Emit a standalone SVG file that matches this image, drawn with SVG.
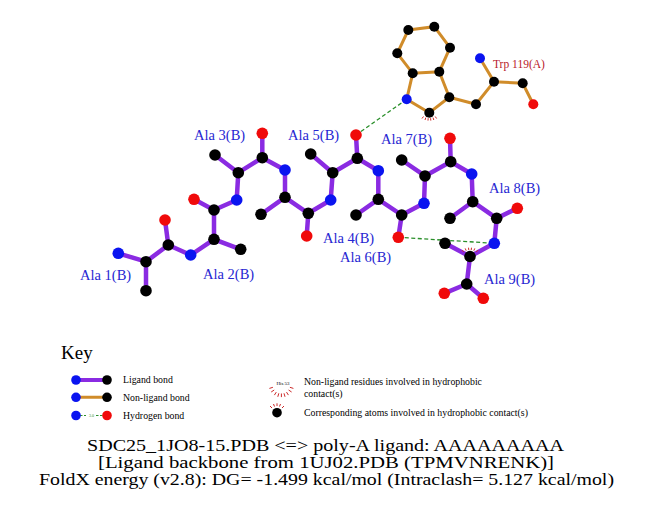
<svg xmlns="http://www.w3.org/2000/svg" width="651" height="511" viewBox="0 0 651 511">
<style>
.lb{stroke:#8a2be2;stroke-width:4.5;stroke-linecap:round;fill:none}
.nb{stroke:#d08c2a;stroke-width:3;stroke-linecap:round;fill:none}
.hb{stroke:#2a8f2a;stroke-width:1.3;stroke-dasharray:4,2.5;fill:none}
.hp{stroke:#cc2a2a;stroke-width:1;fill:none}
.C{fill:#000}
.N{fill:#0a14f0}
.O{fill:#f00a0a}
.lab{font-family:"Liberation Serif","Times New Roman",serif;font-size:14.5px;fill:#2626d2}
.tlab{font-family:"Liberation Serif","Times New Roman",serif;font-size:11.5px;fill:#b8202a}
.key{font-family:"Liberation Serif","Times New Roman",serif;font-size:9.8px;fill:#000}
.title{font-family:"Liberation Serif","Times New Roman",serif;font-size:16px;fill:#000}
</style>
<rect width="651" height="511" fill="#fff"/>
<g id="connectors">
<path class="nb" d="M408.3,30 L434.3,26.7 L450,47.7 L439.3,71.7 L412.7,73.3 L397.3,53.3 Z"/>
<path class="nb" d="M412.7,73.3 L406.7,99.3 L429.3,112.7 L449.3,97.3 L439.3,71.7"/>
<path class="nb" d="M449.3,97.3 L476,104.3 L494,81.7 L480,58.3 M494,81.7 L522.7,83.3 L533.3,104.3"/>
<path class="lb" d="M118.3,253.3 L146,261.7 L146,290.7 M146,261.7 L168.3,245 L165,220 M168.3,245 L190.7,255"/>
<path class="lb" d="M190.7,255 L214,239.3 L240.7,249.3 M214,239.3 L214,210 L194,199.3 M214,210 L236.7,200"/>
<path class="lb" d="M236.7,200 L238.3,172.7 L215,155 M238.3,172.7 L262.3,157.7 L262.3,133.3 M262.3,157.7 L285,170"/>
<path class="lb" d="M285,170 L285,197.3 L261,214.3 M285,197.3 L308.3,213.3 L306.7,236 M308.3,213.3 L330.7,200"/>
<path class="lb" d="M330.7,200 L332.7,172.7 L310.7,154 M332.7,172.7 L357.3,158.3 L356,135 M357.3,158.3 L378.3,170.7"/>
<path class="lb" d="M378.3,170.7 L378.3,199.3 L356,215 M378.3,199.3 L401.7,215 L398.3,237.3 M401.7,215 L424,203.3"/>
<path class="lb" d="M424,203.3 L425,176 L401.7,160 M425,176 L450.7,161.7 L450,138.3 M450.7,161.7 L471.7,174"/>
<path class="lb" d="M471.7,174 L472.7,201.7 L450,218.3 M472.7,201.7 L496.7,218.3 L517.3,208.3 M496.7,218.3 L494.3,243.3"/>
<path class="lb" d="M494.3,243.3 L470,256.5 L445,243.3 M470,256.5 L466.7,284 L444.3,293.3 M466.7,284 L483.3,298.3"/>
<path class="hb" d="M406.7,99.3 L356,135"/>
<path class="hb" d="M398.3,237.3 L494.3,243.3"/>
</g>
<g id="trp119">
<circle class="C" cx="408.3" cy="30" r="5"/>
<circle class="C" cx="434.3" cy="26.7" r="5"/>
<circle class="C" cx="450" cy="47.7" r="5"/>
<circle class="C" cx="439.3" cy="71.7" r="5"/>
<circle class="C" cx="412.7" cy="73.3" r="5"/>
<circle class="C" cx="397.3" cy="53.3" r="5"/>
<circle class="N" cx="406.7" cy="99.3" r="5"/>
<path class="hp" d="M423.5,116.5 L422,118.5 M425.8,117.6 L425,120 M428.2,118.2 L428,120.6 M430.6,118.2 L430.8,120.6 M433,117.6 L433.8,120 M435.2,116.5 L436.6,118.5"/>
<circle class="C" cx="429.3" cy="112.7" r="5"/>
<circle class="C" cx="449.3" cy="97.3" r="5"/>
<circle class="C" cx="476" cy="104.3" r="5"/>
<circle class="C" cx="494" cy="81.7" r="5"/>
<circle class="N" cx="480" cy="58.3" r="5"/>
<circle class="C" cx="522.7" cy="83.3" r="5"/>
<circle class="O" cx="533.3" cy="104.3" r="5"/>
<text class="tlab" x="493" y="67.5">Trp 119(A)</text>
</g>
<g id="ala1">
<circle class="N" cx="118.3" cy="253.3" r="5.8"/>
<circle class="C" cx="146" cy="261.7" r="5.8"/>
<circle class="C" cx="146" cy="290.7" r="5.8"/>
<circle class="C" cx="168.3" cy="245" r="5.8"/>
<circle class="O" cx="165" cy="220" r="5.8"/>
<text class="lab" x="80" y="280">Ala 1(B)</text>
</g>
<g id="ala2">
<circle class="N" cx="190.7" cy="255" r="5.8"/>
<circle class="C" cx="214" cy="239.3" r="5.8"/>
<circle class="C" cx="240.7" cy="249.3" r="5.8"/>
<circle class="C" cx="214" cy="210" r="5.8"/>
<circle class="O" cx="194" cy="199.3" r="5.8"/>
<text class="lab" x="203" y="279">Ala 2(B)</text>
</g>
<g id="ala3">
<circle class="N" cx="236.7" cy="200" r="5.8"/>
<circle class="C" cx="238.3" cy="172.7" r="5.8"/>
<circle class="C" cx="215" cy="155" r="5.8"/>
<circle class="C" cx="262.3" cy="157.7" r="5.8"/>
<circle class="O" cx="262.3" cy="133.3" r="5.8"/>
<text class="lab" x="194" y="140">Ala 3(B)</text>
</g>
<g id="ala4">
<circle class="N" cx="285" cy="170" r="5.8"/>
<circle class="C" cx="285" cy="197.3" r="5.8"/>
<circle class="C" cx="261" cy="214.3" r="5.8"/>
<circle class="C" cx="308.3" cy="213.3" r="5.8"/>
<circle class="O" cx="306.7" cy="236" r="5.8"/>
<text class="lab" x="323" y="243">Ala 4(B)</text>
</g>
<g id="ala5">
<circle class="N" cx="330.7" cy="200" r="5.8"/>
<circle class="C" cx="332.7" cy="172.7" r="5.8"/>
<circle class="C" cx="310.7" cy="154" r="5.8"/>
<circle class="C" cx="357.3" cy="158.3" r="5.8"/>
<circle class="O" cx="356" cy="135" r="5.8"/>
<text class="lab" x="288" y="140">Ala 5(B)</text>
</g>
<g id="ala6">
<circle class="N" cx="378.3" cy="170.7" r="5.8"/>
<circle class="C" cx="378.3" cy="199.3" r="5.8"/>
<circle class="C" cx="356" cy="215" r="5.8"/>
<circle class="C" cx="401.7" cy="215" r="5.8"/>
<circle class="O" cx="398.3" cy="237.3" r="5.8"/>
<text class="lab" x="340" y="262">Ala 6(B)</text>
</g>
<g id="ala7">
<circle class="N" cx="424" cy="203.3" r="5.8"/>
<circle class="C" cx="425" cy="176" r="5.8"/>
<circle class="C" cx="401.7" cy="160" r="5.8"/>
<circle class="C" cx="450.7" cy="161.7" r="5.8"/>
<circle class="O" cx="450" cy="138.3" r="5.8"/>
<text class="lab" x="381" y="144">Ala 7(B)</text>
</g>
<g id="ala8">
<circle class="N" cx="471.7" cy="174" r="5.8"/>
<circle class="C" cx="472.7" cy="201.7" r="5.8"/>
<circle class="C" cx="450" cy="218.3" r="5.8"/>
<circle class="C" cx="496.7" cy="218.3" r="5.8"/>
<circle class="O" cx="517.3" cy="208.3" r="5.8"/>
<text class="lab" x="489" y="193">Ala 8(B)</text>
</g>
<g id="ala9">
<circle class="N" cx="494.3" cy="243.3" r="5.8"/>
<path class="hp" d="M463.8,252 L462,250.2 M466.2,250.7 L465.2,248.4 M468.8,250.1 L468.5,247.7 M471.2,250.1 L471.5,247.7 M473.8,250.7 L474.8,248.4 M476.2,252 L478,250.2"/>
<circle class="C" cx="470" cy="256.5" r="5.8"/>
<circle class="C" cx="445" cy="243.3" r="5.8"/>
<circle class="C" cx="466.7" cy="284" r="5.8"/>
<circle class="O" cx="444.3" cy="293.3" r="5.8"/>
<circle class="O" cx="483.3" cy="298.3" r="5.8"/>
<text class="lab" x="484" y="284">Ala 9(B)</text>
</g>
<g id="key">
<text x="61" y="359" style="font-family:'Liberation Serif','Times New Roman',serif;font-size:19px;fill:#000">Key</text>
<line class="lb" x1="76" y1="380" x2="107" y2="380" style="stroke-width:4"/>
<circle class="N" cx="76" cy="380" r="4.8"/>
<circle class="C" cx="107" cy="380" r="4.8"/>
<text class="key" x="123" y="383.3">Ligand bond</text>
<line class="nb" x1="76" y1="397.3" x2="107" y2="397.3"/>
<circle class="N" cx="76" cy="397.3" r="4.8"/>
<circle class="C" cx="107" cy="397.3" r="4.8"/>
<text class="key" x="123" y="400.6">Non-ligand bond</text>
<line class="hb" x1="76" y1="415.5" x2="86" y2="415.5" style="stroke-dasharray:2.5,1.5;stroke-width:1"/>
<line class="hb" x1="96" y1="415.5" x2="107" y2="415.5" style="stroke-dasharray:2.5,1.5;stroke-width:1"/>
<text x="91.5" y="416.8" text-anchor="middle" style="font-family:'Liberation Serif',serif;font-size:4px;fill:#2a8f2a">3.0</text>
<circle class="N" cx="76" cy="415.5" r="4.8"/>
<circle class="O" cx="107" cy="415.5" r="4.8"/>
<text class="key" x="123" y="418.8">Hydrogen bond</text>
<text x="283" y="385" text-anchor="middle" style="font-family:'Liberation Serif',serif;font-size:5px;fill:#000">His 53</text>
<path class="hp" d="M272.9,387.3 L269.4,388.4 M274.2,390 L271.2,392 M276.3,392.1 L274.4,395.1 M278.8,393.3 L277.8,396.8 M281.4,393.5 L281.4,397.1 M284,393.3 L285,396.8 M286.5,392.1 L288.4,395.1 M288.6,390 L291.6,392 M289.9,387.3 L293.4,388.4"/>
<text class="key" x="304" y="385.3">Non-ligand residues involved in hydrophobic</text>
<text class="key" x="304" y="396.6">contact(s)</text>
<path class="hp" d="M272,408 L270,406 M274.5,406.5 L273.5,404 M277,406 L277,403.3 M279.5,406.5 L280.5,404 M282,408 L284,406"/>
<circle class="C" cx="277" cy="412.7" r="4.8"/>
<text class="key" x="304" y="416">Corresponding atoms involved in hydrophobic contact(s)</text>
</g>
<g id="title">
<text class="title" x="325.5" y="450.5" text-anchor="middle" textLength="477" lengthAdjust="spacingAndGlyphs">SDC25_1JO8-15.PDB &lt;=&gt; poly-A ligand: AAAAAAAAA</text>
<text class="title" x="326" y="467.5" text-anchor="middle" textLength="456" lengthAdjust="spacingAndGlyphs">[Ligand backbone from 1UJ02.PDB (TPMVNRENK)]</text>
<text class="title" x="326.5" y="484.5" text-anchor="middle" textLength="575" lengthAdjust="spacingAndGlyphs">FoldX energy (v2.8): DG= -1.499 kcal/mol (Intraclash= 5.127 kcal/mol)</text>
</g>
</svg>
